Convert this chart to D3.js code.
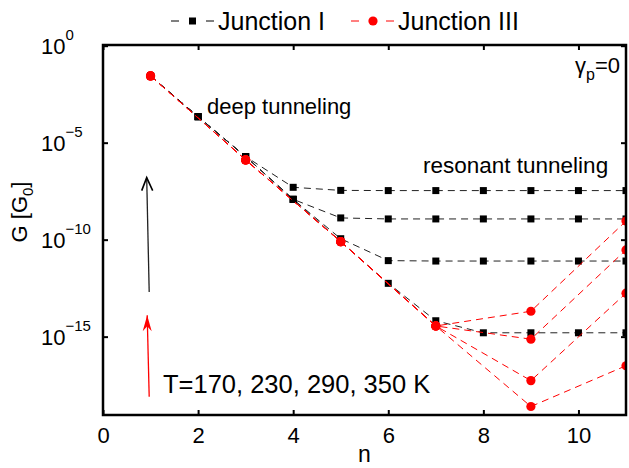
<!DOCTYPE html>
<html><head><meta charset="utf-8">
<script src="https://cdn.jsdelivr.net/npm/d3@7"></script>
<style>body{margin:0;background:#fff} text{font-family:"Liberation Sans",Arial,Helvetica,sans-serif;fill:#000}</style>
</head><body><svg id="c" width="629" height="468"></svg>
<script>
// ---- data ----
const nJ1 = [1,2,3,4,5,6,7,8,9,10,11];
const J1_T350 = [2.75e-2,2.19e-4,1.91e-6,5.0e-8,3.47e-8,3.39e-8,3.39e-8,3.39e-8,3.39e-8,3.39e-8,3.39e-8];
const J1_T290 = [2.75e-2,2.19e-4,1.91e-6,1.2e-8,1.32e-9,1.17e-9,1.17e-9,1.17e-9,1.17e-9,1.17e-9,1.17e-9];
const J1_T230 = [2.75e-2,2.19e-4,1.91e-6,1.2e-8,1.12e-10,8.3e-12,7.9e-12,7.9e-12,7.9e-12,7.9e-12,7.9e-12];
const J1_T170 = [2.75e-2,2.19e-4,1.91e-6,1.2e-8,7.9e-11,5.6e-13,6.6e-15,1.58e-15,1.58e-15,1.58e-15,1.58e-15];
const nJ3 = [1,3,5,7,9,11];
const J3_T350 = [2.75e-2,1.29e-6,7.9e-11,3.55e-15,2.04e-14,9.1e-10];
const J3_T290 = [2.75e-2,1.29e-6,7.9e-11,3.55e-15,7.4e-16,2.95e-11];
const J3_T230 = [2.75e-2,1.29e-6,7.9e-11,3.55e-15,5.4e-18,1.74e-13];
const J3_T170 = [2.75e-2,1.29e-6,7.9e-11,3.55e-15,2.5e-19,3.16e-17];
const xTicks = [0,2,4,6,8,10];
const yTickExps = [0,-5,-10,-15];
const legendLabels = ["Junction I","Junction III"];
const tempLabel = "T=170, 230, 290, 350 K";

// ---- layout ----
const svg = d3.select("#c");
const L=103, R=626, T=45, B=415;
const x = d3.scaleLinear().domain([0,11]).range([L,R]);
const y = d3.scaleLog().domain([Math.pow(10,-19.04),1]).range([B,T+0.7]);

svg.append("defs").append("clipPath").attr("id","clip")
  .append("rect").attr("x",L).attr("y",T).attr("width",R-L).attr("height",B-T);

const plot = svg.append("g").attr("clip-path","url(#clip)");
const line = d3.line().x(d=>x(d[0])).y(d=>y(d[1]));

const J1 = [J1_T350,J1_T290,J1_T230,J1_T170];
const J3 = [J3_T350,J3_T290,J3_T230,J3_T170];

J1.forEach(s=>{
  plot.append("path").attr("d",line(nJ1.map((n,i)=>[n,s[i]])))
    .attr("fill","none").attr("stroke","#222").attr("stroke-width",1).attr("stroke-dasharray","7,5");
});
J1.forEach(s=>{
  plot.selectAll(null).data(nJ1.map((n,i)=>[n,s[i]])).enter().append("rect")
    .attr("x",d=>x(d[0])-3.5).attr("y",d=>y(d[1])-3.5).attr("width",7).attr("height",7).attr("fill","#000");
});
J3.forEach(s=>{
  plot.append("path").attr("d",line(nJ3.map((n,i)=>[n,s[i]])))
    .attr("fill","none").attr("stroke","#ff0000").attr("stroke-width",1).attr("stroke-dasharray","7,5");
});
J3.forEach(s=>{
  plot.selectAll(null).data(nJ3.map((n,i)=>[n,s[i]])).enter().append("circle")
    .attr("cx",d=>x(d[0])).attr("cy",d=>y(d[1])).attr("r",4.6).attr("fill","#ff0000");
});

// ---- axes ----
const ax = svg.append("g").attr("transform",`translate(0,${B})`)
  .call(d3.axisBottom(x).tickValues(xTicks).tickSizeInner(-5).tickSizeOuter(0).tickPadding(12));
ax.selectAll("text").style("font-size","22px").attr("fill","#000");
svg.append("g").attr("transform",`translate(0,${T})`)
  .call(d3.axisTop(x).tickValues(xTicks).tickSizeInner(-5).tickSizeOuter(0).tickFormat(""));
const yTickVals = yTickExps.map(e=>Math.pow(10,e));
svg.append("g").attr("transform",`translate(${L},0)`)
  .call(d3.axisLeft(y).tickValues(yTickVals).tickSizeInner(-5).tickSizeOuter(0).tickFormat(""));
svg.append("g").attr("transform",`translate(${R},0)`)
  .call(d3.axisRight(y).tickValues(yTickVals).tickSizeInner(-5).tickSizeOuter(0).tickFormat(""));
svg.selectAll(".domain").remove();
svg.selectAll(".tick line").attr("stroke","#000").attr("stroke-width",2);

yTickExps.forEach(e=>{
  const t = svg.append("text").attr("x",41).attr("y",y(Math.pow(10,e))+8).style("font-size","22px");
  t.append("tspan").text("10");
  t.append("tspan").attr("dy",-14).style("font-size","15px").text(e===0?"0":"\u2212"+(-e));
});

svg.append("rect").attr("x",L).attr("y",T).attr("width",R-L).attr("height",B-T)
  .attr("fill","none").attr("stroke","#000").attr("stroke-width",2.5);

// axis labels
svg.append("text").attr("x",(L+R)/2).attr("y",462).attr("text-anchor","middle").style("font-size","23px").text("n");
const yl = svg.append("text").attr("transform","translate(27,212) rotate(-90)").attr("text-anchor","middle").style("font-size","22px");
yl.append("tspan").text("G [G");
yl.append("tspan").attr("dy",6).style("font-size","15px").text("0");
yl.append("tspan").attr("dy",-6).text("]");

// annotations
svg.append("text").attr("x",207).attr("y",114).style("font-size","22px").text("deep tunneling");
svg.append("text").attr("x",423).attr("y",173).style("font-size","22.5px").text("resonant tunneling");
svg.append("text").attr("x",163).attr("y",393).style("font-size","25.5px").text(tempLabel);
const g = svg.append("text").attr("x",620).attr("y",73).attr("text-anchor","end").style("font-size","22px");
g.append("tspan").text("\u03B3");
g.append("tspan").attr("dy",7).style("font-size","16px").text("p");
g.append("tspan").attr("dy",-7).text("=0");

// arrows
const ax0 = 0.94;
svg.append("line").attr("x1",x(ax0)+1.5).attr("y1",y(Math.pow(10,-12.7))).attr("x2",x(ax0)-1).attr("y2",y(Math.pow(10,-6.8)))
  .attr("stroke","#222").attr("stroke-width",1.3);
svg.append("path").attr("d",`M${x(ax0)-6},${y(Math.pow(10,-6.8))+13} L${x(ax0)-1},${y(Math.pow(10,-6.8))} L${x(ax0)+5},${y(Math.pow(10,-6.8))+13}`)
  .attr("fill","none").attr("stroke","#000").attr("stroke-width",1.6);
svg.append("line").attr("x1",x(ax0)+1.5).attr("y1",y(Math.pow(10,-18.1))).attr("x2",x(ax0)-0.5).attr("y2",y(Math.pow(10,-13.9)))
  .attr("stroke","#ff0000").attr("stroke-width",1.3);
svg.append("path").attr("d",`M${x(ax0)-5},${y(Math.pow(10,-13.9))+16} L${x(ax0)-0.5},${y(Math.pow(10,-13.9))} L${x(ax0)+4},${y(Math.pow(10,-13.9))+16} L${x(ax0)-0.5},${y(Math.pow(10,-13.9))+11} Z`)
  .attr("fill","#ff0000");

// legend
const legY = 21;
const leg = [{c:"#000",x0:171,sym:"sq",label:legendLabels[0]},{c:"#ff0000",x0:351,sym:"ci",label:legendLabels[1]}];
leg.forEach(l=>{
  svg.append("line").attr("x1",l.x0).attr("x2",l.x0+8).attr("y1",legY).attr("y2",legY).attr("stroke",l.c).attr("stroke-width",1);
  svg.append("line").attr("x1",l.x0+35).attr("x2",l.x0+43).attr("y1",legY).attr("y2",legY).attr("stroke",l.c).attr("stroke-width",1);
  if(l.sym==="sq") svg.append("rect").attr("x",l.x0+21.5-3.5).attr("y",legY-3.5).attr("width",7).attr("height",7).attr("fill",l.c);
  else svg.append("circle").attr("cx",l.x0+22).attr("cy",legY).attr("r",4.6).attr("fill",l.c);
  svg.append("text").attr("x",l.x0+47).attr("y",legY+9).style("font-size","25px").text(l.label);
});
</script></body></html>
